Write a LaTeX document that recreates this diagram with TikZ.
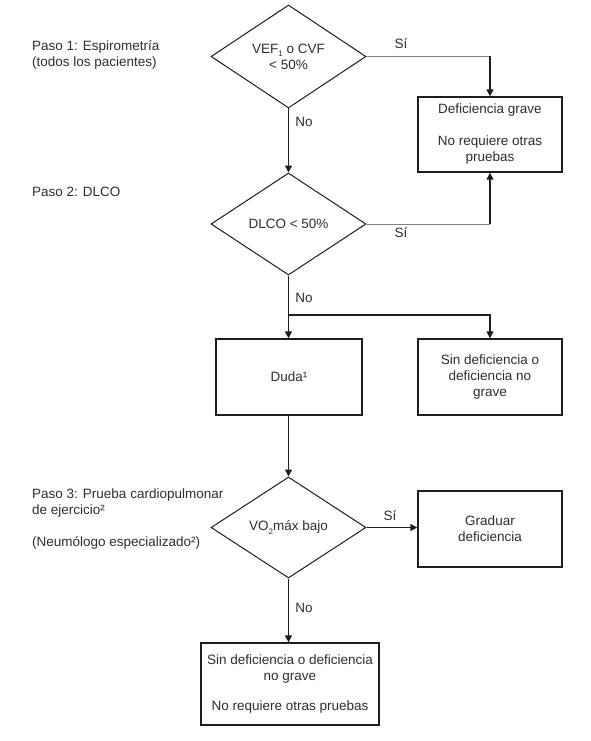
\documentclass[tikz,border=0pt]{standalone}
\usepackage{fontspec}
\setmainfont{Liberation Sans}
\usetikzlibrary{shapes.geometric,arrows.meta}
\definecolor{txt}{HTML}{2E2E2E}
\definecolor{ln}{HTML}{1E1E1E}
\newcommand{\lowsub}[1]{\raisebox{-0.45ex}{\fontsize{8}{8}\selectfont #1}}
\begin{document}
\begin{tikzpicture}[x=1pt,y=-1pt,
  every node/.style={font=\fontsize{13.5}{16}\selectfont, text=txt},
  dec/.style={draw=ln, line width=1pt, shape=diamond, minimum width=155pt, minimum height=102pt, inner sep=0pt, align=center},
  box/.style={draw=ln, line width=1.4pt, minimum width=144pt, minimum height=75pt, inner sep=0pt, align=center},
  arr/.style={draw=ln, line width=1.4pt, -{Triangle[length=7pt,width=7pt]}},
  plain/.style={draw=ln, line width=1.4pt},
  light/.style={draw=gray, line width=0.8pt},
  lbl/.style={inner sep=0pt},
  side/.style={anchor=west, align=left, inner sep=0pt}
]
\useasboundingbox[fill=white] (0,0) rectangle (590,741);

% side texts
\node[side] (p1) at (32,54.5) {Paso 1: Espirometría\\(todos los pacientes)};
\node[side] (p2) at (32,192) {Paso 2: DLCO};
\node[side] (p3) at (32,503) {Paso 3: Prueba cardiopulmonar\\de ejercicio²};
\node[side] (p3b) at (32,543) {(Neumólogo especializado²)};

% decisions
\node[dec, minimum height=103pt] (d1) at (288.5,56.5) {VEF\lowsub{1} o CVF\\< 50\%};
\node[dec] (d2) at (288.5,224) {DLCO < 50\%};
\node[dec, minimum height=101pt] (d3) at (288.5,527.5) {VO\lowsub{2}máx bajo};

% boxes
\node[box] (b1) at (490,134.5) {Deficiencia grave\\[16pt]No requiere otras\\pruebas};
\node[box, minimum width=146pt, minimum height=76pt] (dud) at (289,377) {Duda¹};
\node[box, minimum height=76pt] (b3) at (490,377) {Sin deficiencia o\\deficiencia no\\grave};
\node[box, minimum height=76pt] (gr) at (490,529) {Graduar\\deficiencia};
\node[box, minimum width=178pt, minimum height=82pt] (fin) at (290,684) {Sin deficiencia o deficiencia\\no grave\\[14pt]No requiere otras pruebas};

% connectors
\coordinate (c1) at (b1.north |- d1.east);
\draw[light] (d1.east) -- (c1);
\draw[arr] (c1) -- (b1.north);
\node[lbl] (s1) at (401,44) {Sí};

\draw[arr] (d1.south) -- (d2.north);
\node[lbl] (n1) at (304,122) {No};

\coordinate (c2) at (b1.south |- d2.east);
\draw[light] (d2.east) -- (c2);
\draw[arr] (c2) -- (b1.south);
\node[lbl] (s2) at (401,233) {Sí};

\coordinate (br) at (288.5,315);
\draw[plain] (d2.south) -- (br);
\node[lbl] (n2) at (304,298) {No};
\draw[arr] (br) -- (br |- dud.north);
\draw[arr] (br) -| (b3.north);

\draw[arr] (dud.south -| d3.north) -- (d3.north);

\draw[arr] (d3.east) -- (d3.east -| gr.west);
\node[lbl] (s3) at (390,516) {Sí};

\draw[arr] (d3.south) -- (d3.south |- fin.north);
\node[lbl] (n3) at (304,608) {No};
\end{tikzpicture}
\end{document}
